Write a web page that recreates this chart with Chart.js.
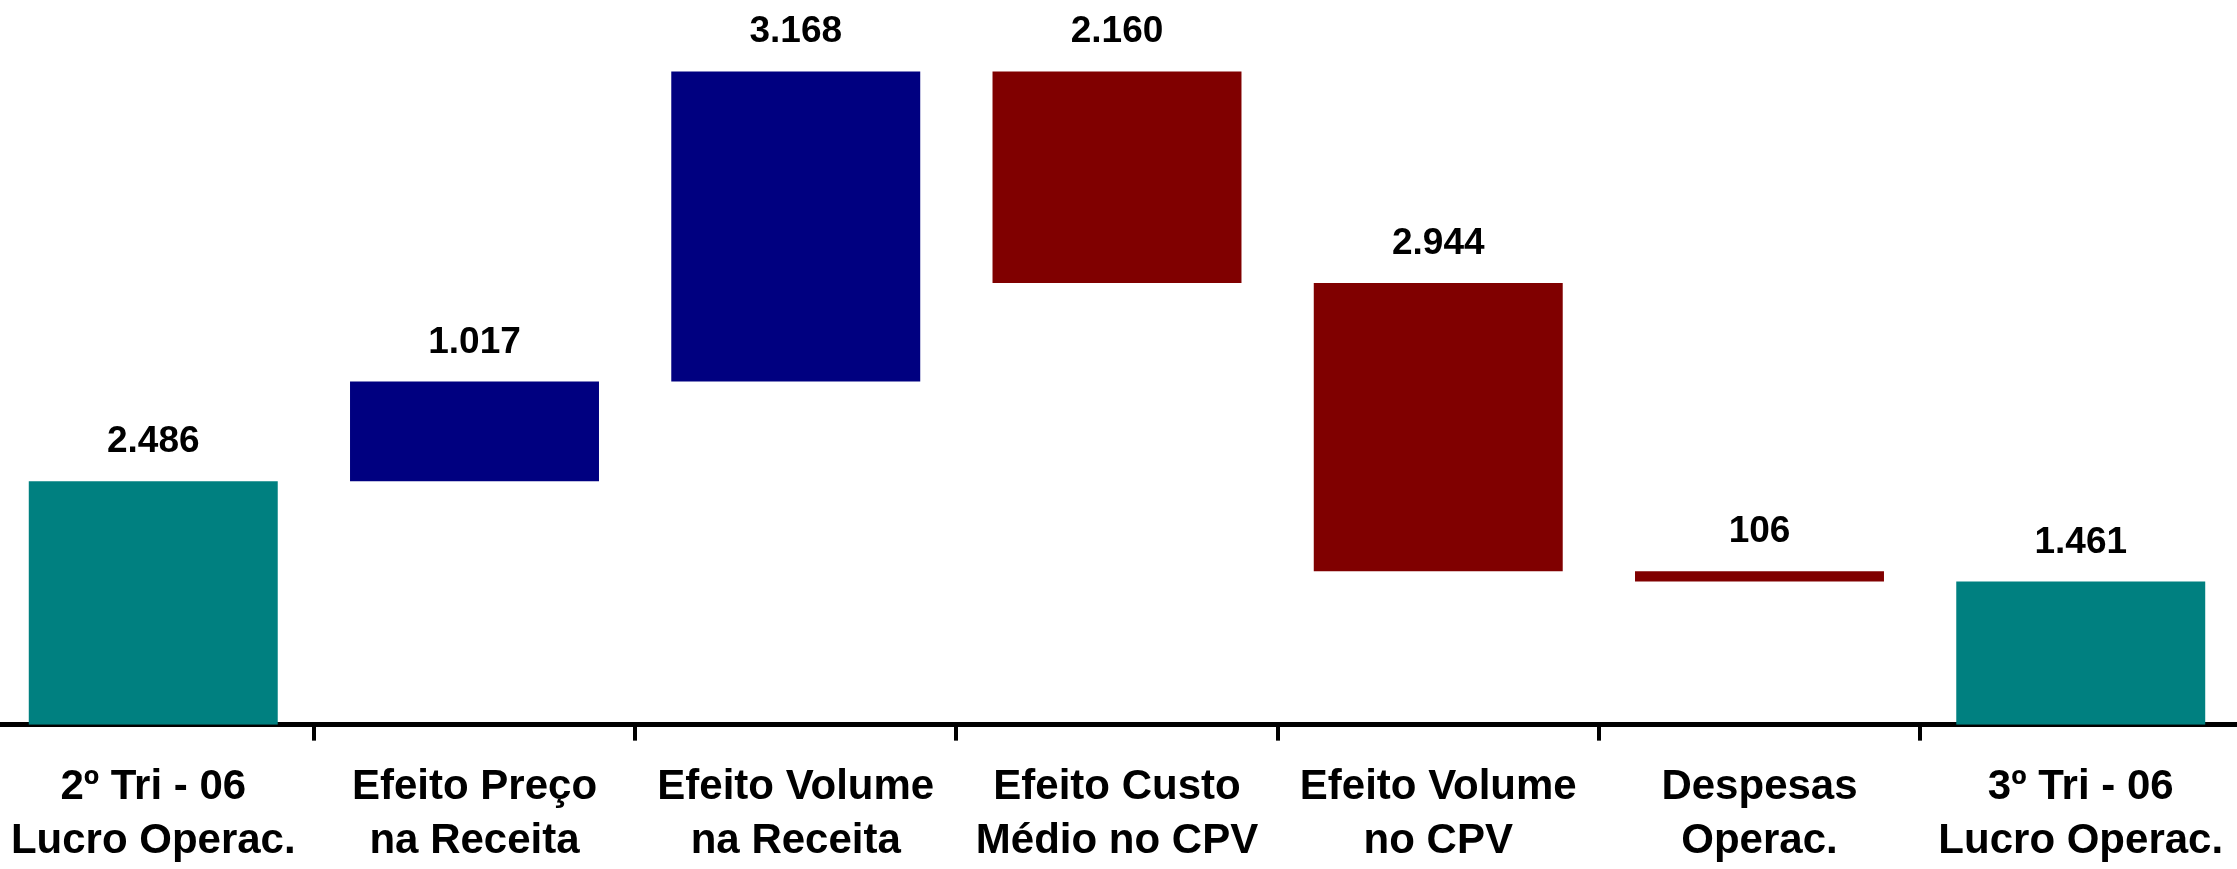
<!DOCTYPE html>
<html lang="pt-BR">
<head>
<meta charset="utf-8">
<title>Lucro Operacional — 2º Tri 06 para 3º Tri 06</title>
<script src="https://cdn.jsdelivr.net/npm/chart.js@4.4.1/dist/chart.umd.min.js"></script>
<style>
  html, body { margin: 0; padding: 0; background: #ffffff; overflow: hidden; }
  #wrap { position: absolute; left: -9px; top: 0; width: 2252px; height: 889px; }
</style>
</head>
<body>
<div id="wrap"><canvas id="grafico"></canvas></div>
<script>
// Categorias da ponte (duas linhas por rótulo)
const categorias = [
  ['2º Tri - 06', 'Lucro Operac.'],
  ['Efeito Preço', 'na Receita'],
  ['Efeito Volume', 'na Receita'],
  ['Efeito Custo', 'Médio no CPV'],
  ['Efeito Volume', 'no CPV'],
  ['Despesas', 'Operac.'],
  ['3º Tri - 06', 'Lucro Operac.']
];

// Variações (R$ mil): totais nas pontas, efeitos no meio
const variacoes = [2486, 1017, 3168, -2160, -2944, -106, 1461];
const tipos = ['total', 'aumento', 'aumento', 'reducao', 'reducao', 'reducao', 'total'];

const cores = { total: '#008080', aumento: '#000080', reducao: '#800000' };

// Faixas flutuantes da cascata a partir das variações
const faixas = [];
let acumulado = 0;
variacoes.forEach((v, i) => {
  if (tipos[i] === 'total') {
    faixas.push([0, v]);
    acumulado = v;
  } else {
    faixas.push([acumulado, acumulado + v]);
    acumulado += v;
  }
});

function formatar(n) {
  return String(Math.abs(n)).replace(/\B(?=(\d{3})+(?!\d))/g, '.');
}

const FONTE = '"Liberation Sans", Arial, sans-serif';

const rotulosValores = {
  id: 'rotulosValores',
  afterDatasetsDraw(chart) {
    const ctx = chart.ctx;
    const meta = chart.getDatasetMeta(0);
    ctx.save();
    ctx.font = 'bold 37px ' + FONTE;
    ctx.fillStyle = '#000000';
    ctx.textAlign = 'center';
    ctx.textBaseline = 'alphabetic';
    meta.data.forEach((barra, i) => {
      const topo = Math.min(barra.y, barra.base);
      ctx.fillText(formatar(variacoes[i]), barra.x, topo - 29);
    });
    ctx.restore();
  }
};

new Chart(document.getElementById('grafico'), {
  type: 'bar',
  data: {
    labels: categorias,
    datasets: [{
      data: faixas,
      backgroundColor: tipos.map(t => cores[t]),
      borderWidth: 0,
      categoryPercentage: 1,
      barPercentage: 0.775
    }]
  },
  options: {
    responsive: true,
    maintainAspectRatio: false,
    animation: false,
    layout: { padding: { top: 0, bottom: 0, left: 0, right: 0 } },
    plugins: {
      legend: { display: false },
      tooltip: { enabled: false }
    },
    scales: {
      x: {
        grid: {
          display: true,
          drawOnChartArea: false,
          drawTicks: true,
          tickLength: 16,
          color: '#000000',
          lineWidth: 4,
          offset: true
        },
        border: { display: true, color: '#000000', width: 5 },
        ticks: {
          color: '#000000',
          padding: 20,
          maxRotation: 0,
          autoSkip: false,
          font: { family: FONTE, size: 42, weight: 'bold', lineHeight: 1.29 }
        }
      },
      y: {
        display: false,
        min: 0,
        max: 7400
      }
    }
  },
  plugins: [rotulosValores]
});
</script>
</body>
</html>
